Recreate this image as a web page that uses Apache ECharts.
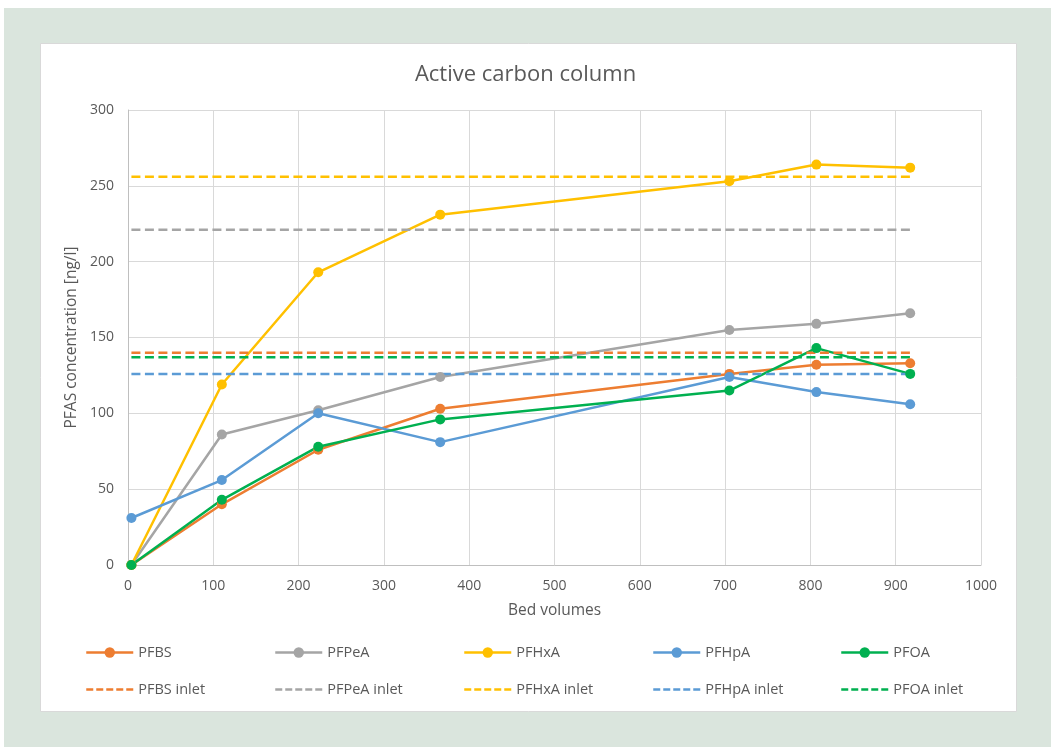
<!DOCTYPE html>
<html>
<head>
<meta charset="utf-8">
<script src="https://cdn.jsdelivr.net/npm/echarts@6/dist/echarts.min.js"></script>
<style>
  html, body { margin: 0; padding: 0; background: #ffffff; }
  #chart { width: 1051px; height: 747px; }
</style>
</head>
<body>
<div id="chart"></div>
<script>
// ---- data ----
const bedVolumes = [4, 110, 223, 366, 705, 807, 917];
const PFBS  = [0, 40, 76, 103, 126, 132, 133];
const PFPeA = [0, 86, 102, 124, 155, 159, 166];
const PFHxA = [0, 119, 193, 231, 253, 264, 262];
const PFHpA = [31, 56, 100, 81, 124, 114, 106];
const PFOA  = [0, 43, 78, 96, 115, 143, 126];

const PFBS_inlet  = [140, 140, 140, 140, 140, 140, 140];
const PFPeA_inlet = [221, 221, 221, 221, 221, 221, 221];
const PFHxA_inlet = [256, 256, 256, 256, 256, 256, 256];
const PFHpA_inlet = [126, 126, 126, 126, 126, 126, 126];
const PFOA_inlet  = [137, 137, 137, 137, 137, 137, 137];

const measuredNames = ['PFBS', 'PFPeA', 'PFHxA', 'PFHpA', 'PFOA'];
const inletNames = ['PFBS inlet', 'PFPeA inlet', 'PFHxA inlet', 'PFHpA inlet', 'PFOA inlet'];
const measuredValues = [PFBS, PFPeA, PFHxA, PFHpA, PFOA];
const inletValues = [PFBS_inlet, PFPeA_inlet, PFHxA_inlet, PFHpA_inlet, PFOA_inlet];
const colors = ['#ED7D31', '#A5A5A5', '#FFC000', '#5B9BD5', '#00B050'];

const xTicks = { min: 0, max: 1000, interval: 100 };
const yTicks = { min: 0, max: 300, interval: 50 };

const FONT = '"Open Sans", "Liberation Sans", sans-serif';
const TXT = '#595959';

function pairs(vals) { return bedVolumes.map((x, i) => [x, vals[i]]); }

const series = [];
measuredNames.forEach((n, i) => {
  series.push({
    name: n, type: 'line', data: pairs(measuredValues[i]),
    symbol: 'circle', symbolSize: 10, showSymbol: true,
    lineStyle: { color: colors[i], width: 2.5 },
    itemStyle: { color: colors[i] },
    emphasis: { disabled: true }, animation: false, z: 3
  });
});
inletNames.forEach((n, i) => {
  series.push({
    name: n, type: 'line', data: pairs(inletValues[i]),
    symbol: 'none', showSymbol: false,
    lineStyle: { color: colors[i], width: 2.5, type: [9, 4.5] },
    itemStyle: { color: colors[i] },
    emphasis: { disabled: true }, animation: false, z: 3
  });
});

const legendCols = [85, 274, 463, 652, 840];
const legends = [];
measuredNames.forEach((n, i) => {
  legends.push({
    data: [n], left: legendCols[i], top: 645, padding: 0,
    itemWidth: 47, itemHeight: 13, selectedMode: false,
    lineStyle: { width: 2.5 },
    textStyle: { color: TXT, fontFamily: FONT, fontSize: 14.5 }
  });
});
inletNames.forEach((n, i) => {
  legends.push({
    data: [{ name: n, itemStyle: { opacity: 0, color: 'rgba(0,0,0,0)', borderWidth: 0 } }],
    left: legendCols[i], top: 682, padding: 0,
    itemWidth: 47, itemHeight: 13, selectedMode: false,
    lineStyle: { width: 2.5, type: [7, 3] },
    textStyle: { color: TXT, fontFamily: FONT, fontSize: 14.5 }
  });
});

const chart = echarts.init(document.getElementById('chart'), null, { renderer: 'canvas' });
chart.setOption({
  backgroundColor: '#ffffff',
  animation: false,
  color: colors,
  graphic: [
    { type: 'rect', z: -10, shape: { x: 4, y: 8, width: 1047, height: 739 }, style: { fill: '#dae5dd' }, silent: true },
    { type: 'rect', z: -9, shape: { x: 40.5, y: 43.5, width: 976, height: 668 }, style: { fill: '#ffffff', stroke: '#d9d9d9', lineWidth: 1 }, silent: true }
  ],
  title: {
    text: 'Active carbon column', left: 'center', top: 59,
    textStyle: { color: TXT, fontFamily: FONT, fontSize: 22, fontWeight: 'normal' }
  },
  legend: legends,
  grid: { left: 128, right: 70, top: 110, bottom: 182, containLabel: false },
  xAxis: {
    type: 'value', min: xTicks.min, max: xTicks.max, interval: xTicks.interval,
    name: 'Bed volumes', nameLocation: 'middle', nameGap: 38,
    nameTextStyle: { color: TXT, fontFamily: FONT, fontSize: 15.5 },
    axisLine: { show: true, lineStyle: { color: '#bfbfbf', width: 1 } },
    axisTick: { show: false },
    axisLabel: { color: TXT, fontFamily: FONT, fontSize: 14, margin: 14, formatter: v => String(v) },
    splitLine: { show: true, lineStyle: { color: '#d9d9d9', width: 1 } }
  },
  yAxis: {
    type: 'value', min: yTicks.min, max: yTicks.max, interval: yTicks.interval,
    name: 'PFAS concentration [ng/l]', nameLocation: 'middle', nameGap: 46,
    nameTextStyle: { color: TXT, fontFamily: FONT, fontSize: 15.5 },
    axisLine: { show: true, lineStyle: { color: '#bfbfbf', width: 1 } },
    axisTick: { show: false },
    axisLabel: { color: TXT, fontFamily: FONT, fontSize: 14, margin: 14 },
    splitLine: { show: true, lineStyle: { color: '#d9d9d9', width: 1 } }
  },
  series: series
});
</script>
</body>
</html>
